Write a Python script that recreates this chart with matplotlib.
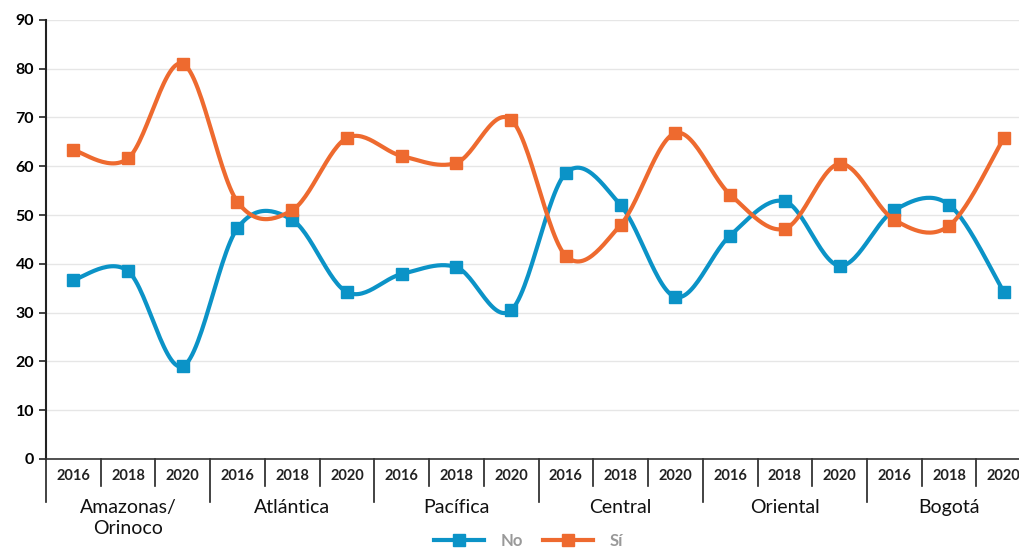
import numpy as np
import matplotlib.pyplot as plt
import matplotlib.transforms as mtrans

plt.rcParams['font.family'] = ['Lato', 'DejaVu Sans']

anios = ["2016", "2018", "2020"]
regiones = ["Amazonas/\nOrinoco", "Atlántica", "Pacífica", "Central", "Oriental", "Bogotá"]
no = [36.7, 38.5, 19.0, 47.3, 49.0, 34.2, 37.9, 39.3, 30.5, 58.6, 52.0, 33.2,
      45.8, 52.8, 39.6, 51.0, 52.1, 34.2]
si = [63.3, 61.6, 81.0, 52.7, 51.0, 65.8, 62.1, 60.7, 69.5, 41.6, 48.0, 66.8,
      54.2, 47.2, 60.5, 49.0, 47.8, 65.8]

azul = "#0b93c7"
naranja = "#ee6a2f"


def suavizar(x, y, n=30):
    # curva tipo catmull-rom, parecida al suavizado de excel
    x = np.asarray(x, float)
    y = np.asarray(y, float)
    px = np.concatenate([[x[0]], x, [x[-1]]])
    py = np.concatenate([[y[0]], y, [y[-1]]])
    xs, ys = [], []
    for i in range(1, len(px) - 2):
        t = np.linspace(0, 1, n)
        for p, out in ((px, xs), (py, ys)):
            p0, p1, p2, p3 = p[i - 1], p[i], p[i + 1], p[i + 2]
            m1 = (p2 - p0) / 2
            m2 = (p3 - p1) / 2
            h00 = 2 * t**3 - 3 * t**2 + 1
            h10 = t**3 - 2 * t**2 + t
            h01 = -2 * t**3 + 3 * t**2
            h11 = t**3 - t**2
            out.extend(h00 * p1 + h10 * m1 + h01 * p2 + h11 * m2)
    return np.array(xs), np.array(ys)


fig = plt.figure(figsize=(10.2, 5.51), dpi=100)
ax = fig.add_axes([0.045, 0.167, 0.966, 0.797])

x = np.arange(len(no)) + 0.5
for datos, color, nombre in ((no, azul, "No"), (si, naranja, "Sí")):
    sx, sy = suavizar(x, datos)
    ax.plot(sx, sy, color=color, lw=3, solid_capstyle='round')
    ax.plot(x, datos, 's', color=color, ms=8.5, ls='none')
    ax.plot([], [], color=color, lw=3, marker='s', ms=8.5, label=nombre)

ax.set_xlim(0, len(no))
ax.set_ylim(0, 90)
ax.set_yticks(np.arange(0, 91, 10))
ax.tick_params(axis='y', labelsize=11.5, length=5, width=1.2, color='#222222')
for lab in ax.get_yticklabels():
    lab.set_fontweight('bold')
ax.yaxis.grid(True, color='#e6e6e6', lw=1)
ax.set_axisbelow(True)
for s in ('top', 'right'):
    ax.spines[s].set_visible(False)
ax.spines['left'].set_color('#222222')
ax.spines['left'].set_linewidth(1.5)
ax.spines['bottom'].set_color('#333333')
ax.spines['bottom'].set_linewidth(1.2)

# eje x jerarquico
ax.set_xticks([])
trans = mtrans.blended_transform_factory(ax.transData, ax.transAxes)
px_ax = 1 / (0.797 * 551)
for i in range(len(no)):
    largo = 43 if i % 3 == 0 else 27
    ax.plot([i, i], [0, -largo * px_ax], color='#222222', lw=1.2,
            transform=trans, clip_on=False)
    ax.text(i + 0.5, -17 * px_ax, anios[i % 3], transform=trans, ha='center',
            va='center', fontsize=10.5, fontweight='bold', color='#222222')
for j, reg in enumerate(regiones):
    ax.text(3 * j + 1.5, -40 * px_ax, reg, transform=trans, ha='center',
            va='top', fontsize=14, color='#111111', linespacing=1.3)

leg = fig.legend(loc='center', bbox_to_anchor=(0.518, 0.018), ncol=2,
                 frameon=False, fontsize=12, handlelength=3.0,
                 columnspacing=1.2, handletextpad=1.0)
for t in leg.get_texts():
    t.set_color('#999999')
    t.set_fontweight('bold')

fig.savefig("out.png", dpi=100)
